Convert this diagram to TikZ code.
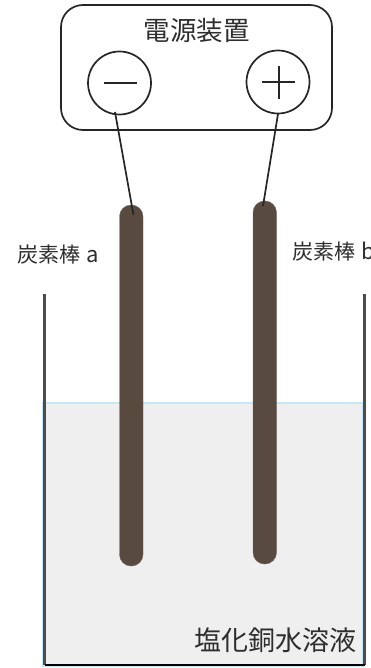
\documentclass[tikz,border=0pt]{standalone}
\usepackage{fontspec}
\setmainfont{Noto Sans CJK JP}[BoldFont={Noto Sans CJK JP}]
\definecolor{rodc}{HTML}{594A40}
\definecolor{inkc}{HTML}{262626}
\definecolor{liqf}{HTML}{EFEFEF}
\definecolor{liqd}{HTML}{C4E8F7}
\definecolor{txtc}{HTML}{2E2E2E}
\tikzset{
  every node/.style={inner sep=0pt,outer sep=0pt,text=txtc},
  unitbox/.style={draw=inkc,line width=1.7pt,rounded corners=22pt,minimum width=271pt,minimum height=125pt,anchor=north west},
  pole/.style={draw=inkc,line width=1.7pt,circle,minimum size=63pt,fill=white},
  rod/.style={fill=rodc,draw=rodc!85!white,line width=.4pt,rounded corners=11.5pt,minimum width=23.5pt,anchor=north west},
  wire/.style={draw=inkc,line width=1.7pt},
  glass/.style={draw=black!70,line width=2.2pt},
  liquid/.style={fill=liqf,draw=liqd,line width=1.4pt,minimum width=320pt,minimum height=263pt,anchor=north west},
  lab/.style={font=\fontsize{21}{21}\selectfont},
  title/.style={font=\fontsize{26.5}{26.5}\selectfont},
  sign/.style={draw=inkc,line width=2pt}
}
\begin{document}
\begin{tikzpicture}[x=1pt,y=-1pt]
\useasboundingbox (0,0) rectangle (370,668);
\node[liquid] (sol) at (43,403) {};
\coordinate (gl1) at (44.5,294);
\coordinate (gl2) at (44.5,665);
\coordinate (gr1) at (364.5,294);
\coordinate (gr2) at (364.5,665);
\draw[glass] (gl1) -- (gl2);
\draw[glass] (gr1) -- (gr2);
\draw[black,line width=2pt] (gl2) -- (gr2);
\node[unitbox] (psu) at (61,5) {};
\node[pole] (neg) at (119.5,83) {};
\node[pole] (posi) at (278,82) {};
\draw[sign] (103.5,83.5) -- (136.5,83.5);
\draw[sign] (262,82) -- (295,82) (278.5,66) -- (278.5,99);
\node[rod,minimum height=361pt] (ra) at (119.5,205) {};
\node[rod,minimum height=363pt] (rb) at (253,201) {};
\coordinate (wa) at (133.5,215);
\coordinate (wb) at (263,206);
\coordinate (na) at (115,112);
\coordinate (nb) at (278,114);
\draw[wire] (na) -- (wa);
\draw[wire] (nb) -- (wb);
\node[title] (t1) at (196.5,30) {電源装置};
\node[lab,anchor=base west] (la) at (17,262) {炭素棒\hspace{6pt}{\fontsize{22}{22}\selectfont a}};
\node[lab,anchor=base west] (lb) at (292,259) {炭素棒\hspace{6pt}{\fontsize{22}{22}\selectfont b}};
\node[font=\fontsize{27}{27}\selectfont,anchor=east] (ls) at (356,640) {塩化銅水溶液};
\end{tikzpicture}
\end{document}
